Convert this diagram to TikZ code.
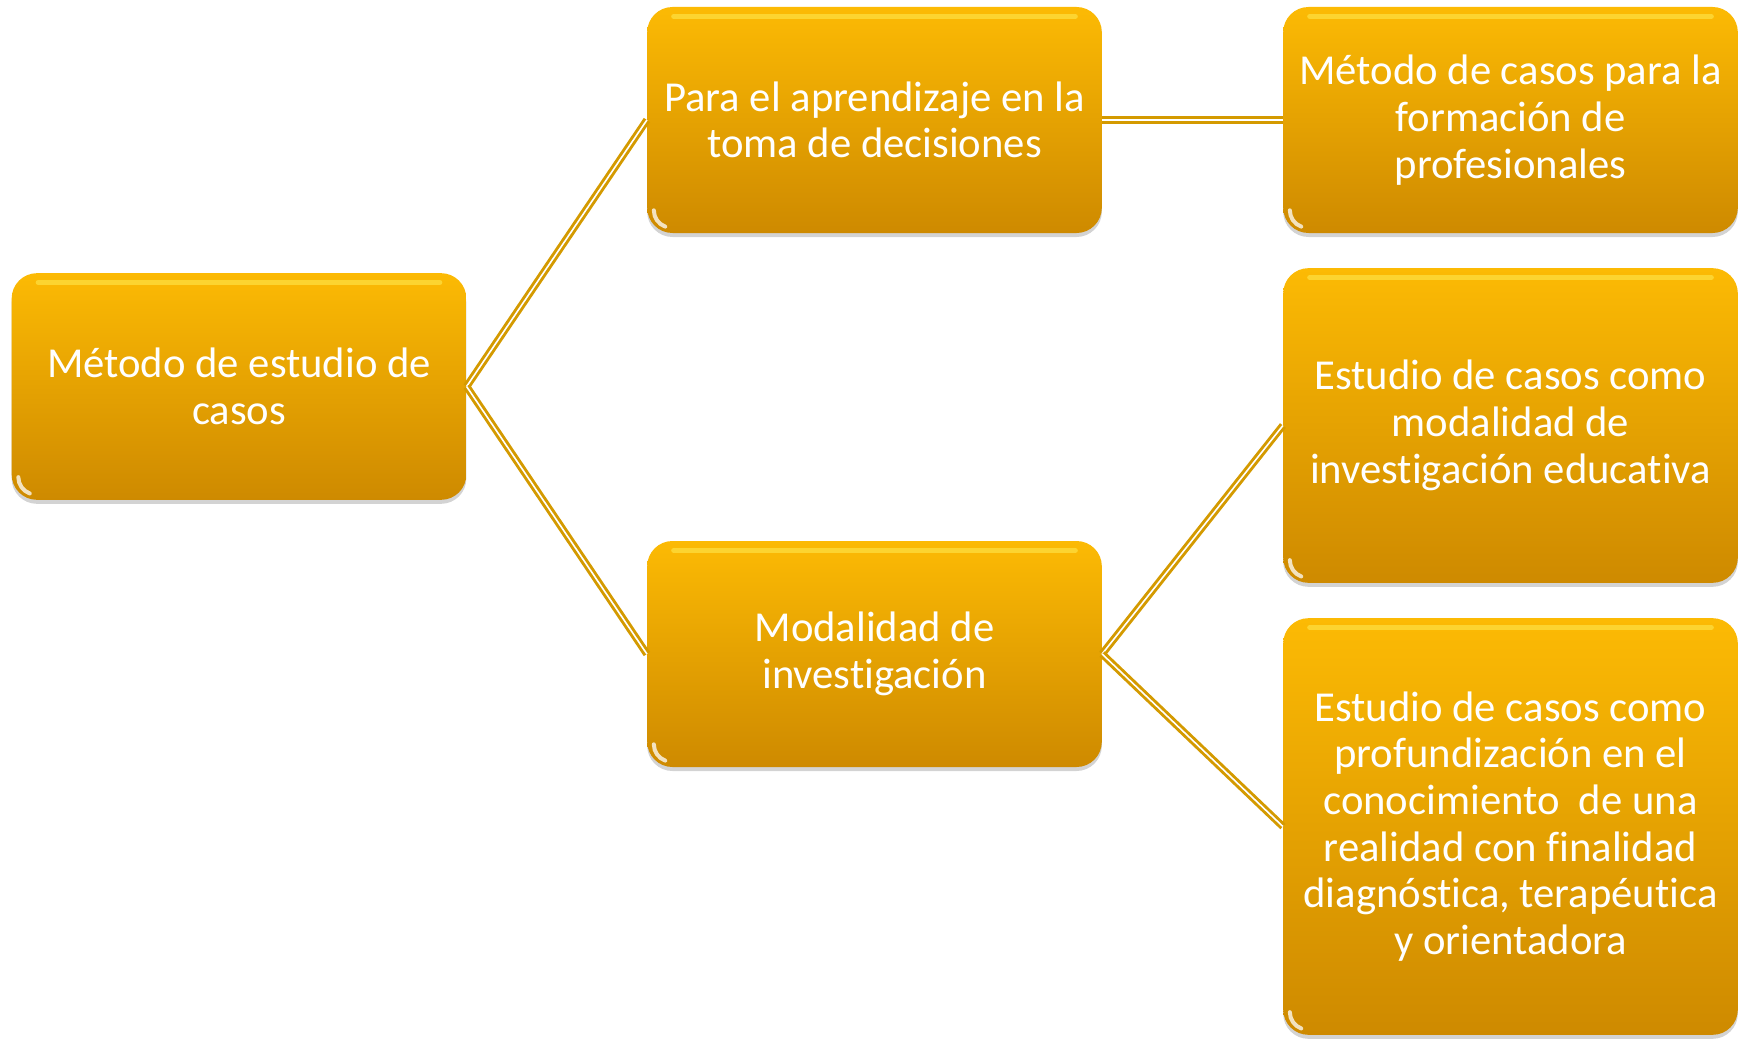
\documentclass[tikz,border=0pt]{standalone}
\usepackage{fontspec}
\setmainfont{Carlito}[Ligatures=NoCommon]
\usepackage{tikz}
\usetikzlibrary{shadows}

\definecolor{boxtop}{RGB}{252,186,4}
\definecolor{boxbot}{RGB}{206,138,0}
\definecolor{linkgold}{RGB}{212,154,0}

\begin{document}
\begin{tikzpicture}[x=0.75pt,y=0.75pt,yscale=-1,xscale=1,
    box/.style={rounded corners=19pt, top color=boxtop, bottom color=boxbot,
        draw=none, text=white, align=center, minimum width=341pt, inner sep=4pt,
        font=\fontsize{32}{35}\selectfont,
        drop shadow={shadow xshift=0pt, shadow yshift=-3pt, opacity=0.35},
        path picture={
            \draw[yellow!60!white, line width=4pt, opacity=0.45, line cap=round]
              ([xshift=20pt,yshift=-7pt]path picture bounding box.north west) --
              ([xshift=-20pt,yshift=-7pt]path picture bounding box.north east);
            \draw[white, line width=3pt, opacity=0.75, line cap=round]
              ([xshift=5pt,yshift=17pt]path picture bounding box.south west)
              arc (180:250:13pt);
        }},
    link/.style={draw=linkgold, line width=2.2pt, double=white, double distance=1.2pt}]
    \useasboundingbox (0,0) rectangle (1744,1038);

    % Boxes
    \node [box, minimum height=170pt] (metodo) at (239,386.5) {Método de estudio de\\casos};
    \node [box, minimum height=169.5pt] (aprendizaje) at (874.5,120) {Para el aprendizaje en la\\toma de decisiones};
    \node [box, minimum height=169.5pt] (modalidad) at (874.5,654) {Modalidad de\\investigación};
    \node [box, minimum height=169.5pt] (formacion) at (1510.5,120) {Método de casos para la\\formación de\\profesionales};
    \node [box, minimum height=236pt] (educativa) at (1510.5,425.5) {Estudio de casos como\\modalidad de\\investigación educativa};
    \node [box, minimum height=312.5pt] (realidad) at (1510.5,826.5) {Estudio de casos como\\profundización en el\\conocimiento~ de una\\realidad con finalidad\\diagnóstica, terapéutica\\y orientadora};

    % Links
    \draw [link] (metodo.east) -- (aprendizaje.west);
    \draw [link] (metodo.east) -- (modalidad.west);
    \draw [link] (aprendizaje.east) -- (formacion.west);
    \draw [link] (modalidad.east) -- (educativa.west);
    \draw [link] (modalidad.east) -- (realidad.west);
\end{tikzpicture}
\end{document}
